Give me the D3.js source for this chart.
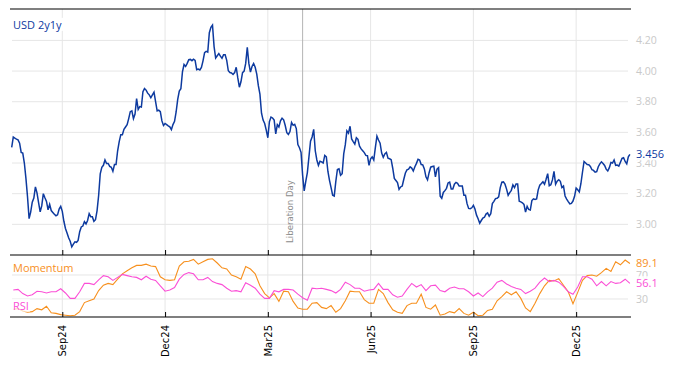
<!DOCTYPE html>
<html><head><meta charset="utf-8">
<script src="https://cdn.jsdelivr.net/npm/d3@7"></script>
<style>body{margin:0;background:#fff}svg{display:block}</style>
</head><body><svg id="c" width="674" height="366"></svg>
<script>
// ---- data ----
const startDate = "2024-07-18";           // first business day shown
const seriesName = "USD 2y1y";
const usd2y1y = [
3.502,3.569,3.562,3.556,3.551,3.530,3.469,3.465,3.400,3.300,
3.180,3.037,3.080,3.145,3.172,3.244,3.205,3.141,3.082,3.120,
3.200,3.173,3.150,3.095,3.130,3.090,3.078,3.066,3.056,3.062,
3.100,3.117,3.085,3.020,2.973,2.944,2.912,2.890,2.853,2.871,
2.886,2.883,2.895,2.952,2.983,2.989,3.018,3.003,3.025,3.070,
3.050,3.050,3.020,3.030,3.090,3.190,3.330,3.372,3.385,3.420,
3.397,3.397,3.378,3.372,3.346,3.390,3.390,3.480,3.540,3.585,
3.585,3.620,3.635,3.650,3.690,3.735,3.740,3.690,3.720,3.820,
3.750,3.768,3.765,3.865,3.886,3.876,3.856,3.845,3.826,3.845,
3.862,3.800,3.740,3.745,3.735,3.675,3.645,3.658,3.651,3.643,
3.636,3.618,3.651,3.672,3.733,3.815,3.870,3.885,3.995,4.043,
4.030,4.050,4.074,4.076,4.068,4.078,4.070,4.009,4.013,4.007,
4.024,4.067,4.120,4.129,4.124,4.250,4.285,4.300,4.160,4.085,
4.100,4.114,4.097,4.083,4.107,4.107,4.070,4.002,3.990,3.988,
3.978,3.990,4.025,3.955,3.895,3.930,3.990,4.000,4.050,4.155,
4.050,3.993,4.030,4.050,4.025,3.980,3.905,3.850,3.725,3.680,
3.658,3.615,3.565,3.670,3.700,3.694,3.680,3.590,3.650,3.635,
3.675,3.692,3.682,3.645,3.598,3.587,3.605,3.665,3.646,3.652,
3.625,3.520,3.500,3.470,3.320,3.218,3.280,3.338,3.440,3.543,
3.570,3.620,3.480,3.420,3.385,3.412,3.408,3.400,3.450,3.440,
3.345,3.287,3.240,3.190,3.185,3.280,3.358,3.362,3.320,3.330,
3.460,3.520,3.610,3.595,3.640,3.557,3.540,3.524,3.565,3.555,
3.510,3.492,3.480,3.468,3.450,3.448,3.385,3.428,3.440,3.420,
3.500,3.575,3.550,3.530,3.465,3.438,3.460,3.470,3.432,3.428,
3.422,3.366,3.300,3.286,3.272,3.228,3.244,3.250,3.294,3.335,
3.355,3.360,3.375,3.367,3.348,3.376,3.398,3.425,3.420,3.390,
3.388,3.362,3.310,3.290,3.337,3.373,3.377,3.380,3.310,3.360,
3.370,3.184,3.170,3.208,3.220,3.235,3.270,3.276,3.230,3.230,
3.262,3.274,3.268,3.250,3.250,3.250,3.190,3.190,3.135,3.104,
3.102,3.108,3.124,3.100,3.060,3.036,3.007,3.025,3.041,3.046,
3.067,3.075,3.053,3.070,3.135,3.150,3.168,3.170,3.180,3.240,
3.275,3.277,3.262,3.230,3.190,3.207,3.222,3.257,3.240,3.264,
3.264,3.151,3.147,3.141,3.130,3.080,3.118,3.097,3.093,3.155,
3.166,3.162,3.166,3.225,3.255,3.266,3.278,3.262,3.294,3.331,
3.252,3.258,3.290,3.345,3.262,3.282,3.291,3.281,3.240,3.250,
3.185,3.165,3.148,3.134,3.137,3.152,3.183,3.237,3.226,3.212,
3.265,3.340,3.410,3.400,3.390,3.389,3.378,3.356,3.352,3.340,
3.344,3.376,3.395,3.408,3.397,3.384,3.360,3.348,3.370,3.404,
3.400,3.420,3.385,3.387,3.380,3.405,3.430,3.434,3.410,3.395,
3.440,3.456];
// indicator panel: one reading every 3rd business day, starting with the 2nd
const subStep = 3, subOffset = 1;
const momentum = [
13,14,10,8,9,14,12,18,7,6,
4,3,2,3,9,24,27,30,44,53,
56,54,63,72,77,82,86,86,88,85,
84,67,62,61,62,85,92,93,96,88,
92,96,97,90,82,80,70,67,63,84,
80,72,52,39,32,39,26,43,42,26,
15,13,13,23,24,16,14,19,8,14,
27,43,42,42,29,23,23,46,39,24,
12,8,6,19,23,23,38,16,13,20,
3,5,9,7,14,6,3,8,2,3,
11,13,27,34,42,37,42,31,15,9,
23,39,52,61,60,64,53,42,22,41,
61,69,70,68,74,81,76,92,87,95,
89.1];
const rsi = [
45,46,39,35,37,43,42,40,42,42,
47,40,31,31,42,56,56,54,62,69,
67,61,66,71,69,67,66,62,68,63,
61,52,43,45,49,63,71,74,72,62,
62,66,59,56,54,48,43,44,42,57,
53,48,38,31,31,44,42,46,46,45,
38,32,28,48,47,48,46,44,40,46,
58,54,48,48,43,45,46,56,46,46,
37,33,35,46,56,50,54,44,52,53,
44,42,48,50,47,47,42,35,40,34,
42,48,58,61,55,51,48,46,39,43,
48,58,65,59,61,58,51,42,38,50,
67,67,63,52,59,52,59,56,57,63,
56.1];
const yTicksTop = [3.00,3.20,3.40,3.60,3.80,4.00,4.20];
const yTicksBottom = [30,70];
const xTickMonths = [8,11,2,5];   // Sep, Dec, Mar, Jun
const eventDate = "2025-04-02", eventLabel = "Liberation Day";
const momLabel = "Momentum", rsiLabel = "RSI";

// ---- colours ----
const cMain = "#0d3a9f", cMom = "#f7901e", cRsi = "#fb4fd6", cGrid = "#e6e6e6", cTick = "#c9c9c9";

// ---- business-day dates ----
const parse = d3.timeParse("%Y-%m-%d");
const dates = [];
for (let d = parse(startDate); dates.length < usd2y1y.length; d = d3.timeDay.offset(d, 1)) {
  const wd = d.getDay();
  if (wd !== 0 && wd !== 6) dates.push(d);
}
const n = dates.length;

// ---- layout ----
const L = 10, R = 631, gL = 12, gR = 628;
const topY0 = 9, topY1 = 255, botY1 = 317;
const x = d3.scaleLinear().domain([0, n - 1]).range([11.7, 629.9]);
const yTop = d3.scaleLinear().domain([2.8, 4.405]).range([topY1, topY0]);
const yBot = d3.scaleLinear().domain([0, 103.33]).range([botY1, topY1]);

const svg = d3.select("#c");
const font = "'Open Sans', 'Segoe UI', sans-serif";

const tickIdx = dates.map((d, i) => i).filter(i => i > 0 && dates[i].getMonth() !== dates[i - 1].getMonth() && xTickMonths.includes(dates[i].getMonth()));
const fmt = d3.timeFormat("%b%y");
const evIdx = dates.findIndex(d => d3.timeFormat("%Y-%m-%d")(d) === eventDate);

// grid
const g = svg.append("g");
g.selectAll(".hg").data(yTicksTop).join("line")
  .attr("x1", gL).attr("x2", gR).attr("y1", d => yTop(d)).attr("y2", d => yTop(d))
  .attr("stroke", cGrid).attr("stroke-width", 1);
g.selectAll(".hb").data(yTicksBottom).join("line")
  .attr("x1", gL).attr("x2", gR).attr("y1", d => yBot(d)).attr("y2", d => yBot(d))
  .attr("stroke", cGrid).attr("stroke-width", 1);
g.selectAll(".vg").data(tickIdx).join("line")
  .attr("x1", d => x(d)).attr("x2", d => x(d)).attr("y1", topY0).attr("y2", botY1)
  .attr("stroke", cGrid).attr("stroke-width", 1);

// event line
svg.append("line").attr("x1", x(evIdx)).attr("x2", x(evIdx)).attr("y1", topY0).attr("y2", botY1)
  .attr("stroke", "#b4b4b4").attr("stroke-width", 1);
svg.append("text").attr("transform", `translate(${x(evIdx) - 10},243) rotate(-90)`)
  .attr("font-family", "'DejaVu Sans', sans-serif").attr("font-size", 8.6).attr("fill", "#8c8c8c")
  .text(eventLabel);

// y tick labels
svg.selectAll(".yt").data(yTicksTop).join("text")
  .attr("x", 636).attr("y", d => yTop(d)).attr("dy", "0.35em")
  .attr("font-family", font).attr("font-size", 10.5).attr("fill", cTick)
  .text(d => d3.format(".2f")(d));
svg.selectAll(".yb").data(yTicksBottom).join("text")
  .attr("x", 636).attr("y", d => yBot(d)).attr("dy", "0.35em")
  .attr("font-family", font).attr("font-size", 10.5).attr("fill", cTick)
  .text(d => d);

// indicator lines
const subLine = d3.line().x((d, k) => x(subOffset + k * subStep)).y(d => yBot(d));
svg.append("path").datum(momentum).attr("d", subLine).attr("fill", "none").attr("stroke", cMom).attr("stroke-width", 1.1);
svg.append("path").datum(rsi).attr("d", subLine).attr("fill", "none").attr("stroke", cRsi).attr("stroke-width", 1.1);

// main line
const mainLine = d3.line().x((d, i) => x(i)).y(d => yTop(d));
svg.append("path").datum(usd2y1y).attr("d", mainLine).attr("fill", "none").attr("stroke", cMain).attr("stroke-width", 1.5);

// frame lines
[topY0, topY1, botY1].forEach(yy => svg.append("line").attr("x1", L).attr("x2", R).attr("y1", yy).attr("y2", yy)
  .attr("stroke", "#000").attr("stroke-width", 1.2));

// axes (ticks pointing inward)
const axTop = svg.append("g").attr("transform", `translate(0,${topY1})`)
  .call(d3.axisBottom(x).tickValues(tickIdx).tickSizeInner(-5).tickSizeOuter(0).tickFormat(""));
axTop.select(".domain").remove();
const axBot = svg.append("g").attr("transform", `translate(0,${botY1})`)
  .call(d3.axisBottom(x).tickValues(tickIdx).tickSizeInner(-5).tickSizeOuter(0).tickFormat(i => fmt(dates[i])));
axBot.select(".domain").remove();
axBot.selectAll("text").attr("y", 0).attr("dy", null).attr("x", 0)
  .attr("transform", "translate(3.6,8) rotate(-90)").attr("text-anchor", "end")
  .attr("font-family", "'DejaVu Sans', sans-serif").attr("font-size", 10).attr("fill", "#000");

// labels with backgrounds
function label(txt, xx, yy, color, size, bgOpacity) {
  const t = svg.append("text").attr("x", xx).attr("y", yy).attr("dy", "0.35em")
    .attr("font-family", font).attr("font-size", size).attr("fill", color).text(txt);
  const b = t.node().getBBox();
  svg.insert("rect", () => t.node()).attr("x", b.x - 1).attr("y", b.y + 1).attr("width", b.width + 2).attr("height", b.height - 2)
    .attr("fill", "#fff").attr("opacity", bgOpacity);
  return t;
}
label(seriesName, 13, 25, cMain, 11, 1);
label(momLabel, 13, 268, cMom, 11, 0.7);
label(rsiLabel, 13, 306, cRsi, 11, 0.7);
label(d3.format(".3f")(usd2y1y[n - 1]), 636, yTop(usd2y1y[n - 1]), cMain, 11, 0.85);
label(d3.format(".1f")(momentum[momentum.length - 1]), 636, yBot(momentum[momentum.length - 1]), cMom, 11, 0.85);
label(d3.format(".1f")(rsi[rsi.length - 1]), 636, yBot(rsi[rsi.length - 1]), cRsi, 11, 0.85);
</script>
</body></html>
